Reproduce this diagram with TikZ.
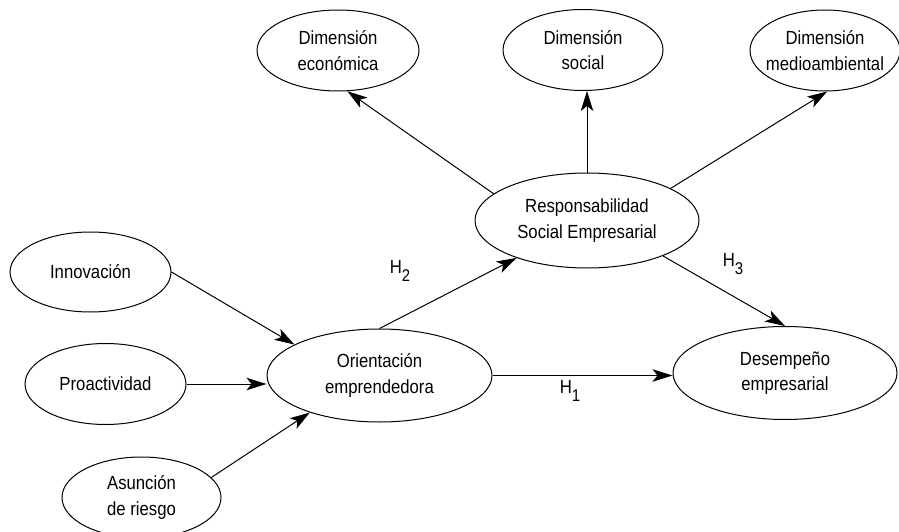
\documentclass[tikz,border=0pt]{standalone}
\usepackage{fontspec}
\setmainfont{Liberation Sans}[FakeStretch=0.88]
\usetikzlibrary{arrows.meta,shapes.geometric}
\newcommand{\hsub}[1]{H\raisebox{-0.4em}{\fontsize{17}{17}\selectfont #1}}
\tikzset{
  ell/.style={draw, line width=1pt, ellipse, inner xsep=-10pt, inner ysep=0pt,
    align=center, font=\fontsize{19}{25.5}\selectfont},
  con/.style={draw, line width=1pt, -{Stealth[length=20pt,width=12.5pt,inset=5pt]}},
  hlab/.style={font=\fontsize{19}{25.5}\selectfont, inner sep=0pt}
}
\begin{document}
\begin{tikzpicture}[x=1pt,y=-1pt]
\useasboundingbox (0,0) rectangle (899,532);
\clip (0,0) rectangle (899,532);
\node[ell, minimum width=162pt, minimum height=81pt] (eco) at (338,50.5) {Dimensión\\económica};
\node[ell, minimum width=160pt, minimum height=81pt] (soc) at (583,50) {Dimensión\\social};
\node[ell, minimum width=150pt, minimum height=81pt] (med) at (825,50.5) {Dimensión\\medioambiental};
\node[ell, minimum width=224pt, minimum height=95pt] (rse) at (587,220.5) {Responsabilidad\\Social Empresarial};
\node[ell, minimum width=161pt, minimum height=80pt] (inno) at (90.5,272) {Innovación};
\node[ell, minimum width=161pt, minimum height=81pt] (proa) at (105.5,384) {Proactividad};
\node[ell, minimum width=159pt, minimum height=81pt] (asun) at (141.5,497.5) {Asunción\\de riesgo};
\node[ell, minimum width=225pt, minimum height=93pt] (orient) at (379.5,375.5) {Orientación\\emprendedora};
\node[ell, minimum width=224pt, minimum height=93pt] (desem) at (785,373) {Desempeño\\empresarial};

\path[con] (inno.east) -- (orient.160);
\path[con] (proa.east) -- (proa.east -| orient.west);
\path[con] (asun.16) -- (orient.208);
\path[con] (orient.north) -- (rse.208);
\path[con] (rse.164) -- (eco.283);
\path[con] (rse.north) -- (rse.north |- soc.south);
\path[con] (rse.21) -- (med.273);
\path[con] (rse.335) -- (desem.north);
\path[con] (orient.east) -- (orient.east -| desem.west);

\node[hlab] (h2) at (400,271) {\hsub{2}};
\node[hlab] (h3) at (733,264) {\hsub{3}};
\node[hlab] (h1) at (570,391) {\hsub{1}};
\end{tikzpicture}
\end{document}
